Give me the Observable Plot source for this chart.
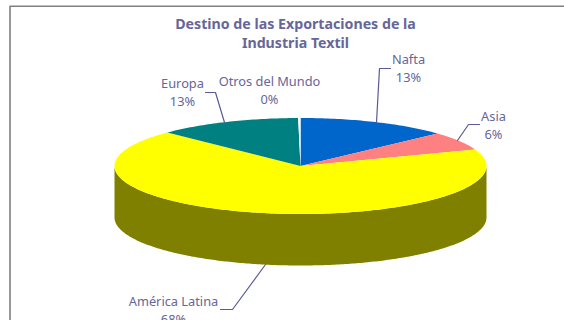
<!DOCTYPE html>
<html>
<head>
<meta charset="utf-8">
<script src="https://cdn.jsdelivr.net/npm/d3@7"></script>
<script src="https://cdn.jsdelivr.net/npm/@observablehq/plot@0.6"></script>
<style>
html,body{margin:0;padding:0;background:#fff;overflow:hidden}
svg{display:block}
</style>
</head>
<body>
<div id="chart"></div>
<script>
// Data
const categories = ["Nafta", "Asia", "América Latina", "Europa", "Otros del Mundo"];
const shares = [13.2, 6.2, 67.9, 12.5, 0.2];
const colors = ["#0066CC", "#FF8080", "#FFFF00", "#008080", "#FFFFFF"];
const titleLines = ["Destino de las Exportaciones de la", "Industria Textil"];

// Layout
const W = 564, H = 320;
const pie = {cx: 300, cy: 165.5, rx: 186, ry: 48, depth: 51.5};
const wallColor = "#808000";
const ink = "#666699";
const lineInk = "#5A5A96";
const font = "Noto Sans";
const labelPos = [[408, 67], [493, 124], [173, 309], [182, 91], [269, 89]];
const leaders = [
  [[390, 68], [379, 68], [376, 122]],
  [[479, 124], [468, 124], [457, 140]],
  [[220, 309], [232, 309], [265, 264]],
  [[205, 92], [215, 92], [224, 122]],
];

const total = d3.sum(shares);
const px = a => pie.cx + pie.rx * Math.sin(a);
const py = a => pie.cy - pie.ry * Math.cos(a);

// Slice outlines derived from the shares
let start = 0;
const slices = [];
const wall = [];
categories.forEach((name, i) => {
  const a0 = start, a1 = start + shares[i] / total * 2 * Math.PI;
  start = a1;
  const n = Math.max(2, Math.ceil((a1 - a0) * 60));
  slices.push({name, color: colors[i], x: pie.cx, y: pie.cy});
  d3.range(n + 1).forEach(k => {
    const a = a0 + (a1 - a0) * k / n;
    slices.push({name, color: colors[i], x: px(a), y: py(a)});
  });
  // visible side of the cylinder: the front half of each arc
  const f0 = Math.max(a0, Math.PI / 2), f1 = Math.min(a1, 3 * Math.PI / 2);
  if (f1 > f0) {
    const top = [], bottom = [];
    d3.range(n + 1).forEach(k => {
      const a = f0 + (f1 - f0) * k / n;
      top.push({name, x: px(a), y: py(a)});
      bottom.push({name, x: px(a), y: py(a) + pie.depth});
    });
    wall.push(...top, ...bottom.reverse());
  }
});

const labels = categories.map((name, i) => ({
  text: name + "\n" + Math.round(shares[i]) + "%",
  x: labelPos[i][0], y: labelPos[i][1]
}));
const leaderRows = leaders.flatMap((l, i) => l.map(p => ({id: i, x: p[0], y: p[1]})));

const chart = Plot.plot({
  width: W, height: H,
  margin: 0,
  x: {domain: [0, W], range: [0, W], axis: null},
  y: {domain: [0, H], range: [0, H], axis: null},
  color: {type: "identity"},
  style: {background: "#fff", fontFamily: font},
  marks: [
    Plot.line([{x: W, y: 5.7}, {x: 9.5, y: 5.7}, {x: 9.5, y: H}], {x: "x", y: "y", stroke: "#808080", strokeWidth: 1.6}),
    Plot.line(wall, {x: "x", y: "y", z: "name", fill: wallColor, stroke: "none"}),
    Plot.line(slices, {x: "x", y: "y", z: "name", fill: "color", stroke: "none"}),
    Plot.line(leaderRows, {x: "x", y: "y", z: "id", stroke: lineInk, strokeWidth: 1.2}),
    Plot.text(labels, {x: "x", y: "y", text: "text", fill: ink, fontSize: 12.8, lineHeight: 1.41, lineAnchor: "middle", textAnchor: "middle", fontFamily: font}),
    Plot.text(titleLines, {x: () => 295, y: (d, i) => 24 + i * 18.5, text: d => d, fill: ink, fontSize: 14.2, fontWeight: "bold", lineAnchor: "middle", textAnchor: "middle", fontFamily: font})
  ]
});
document.getElementById("chart").appendChild(chart);
</script>
</body>
</html>
